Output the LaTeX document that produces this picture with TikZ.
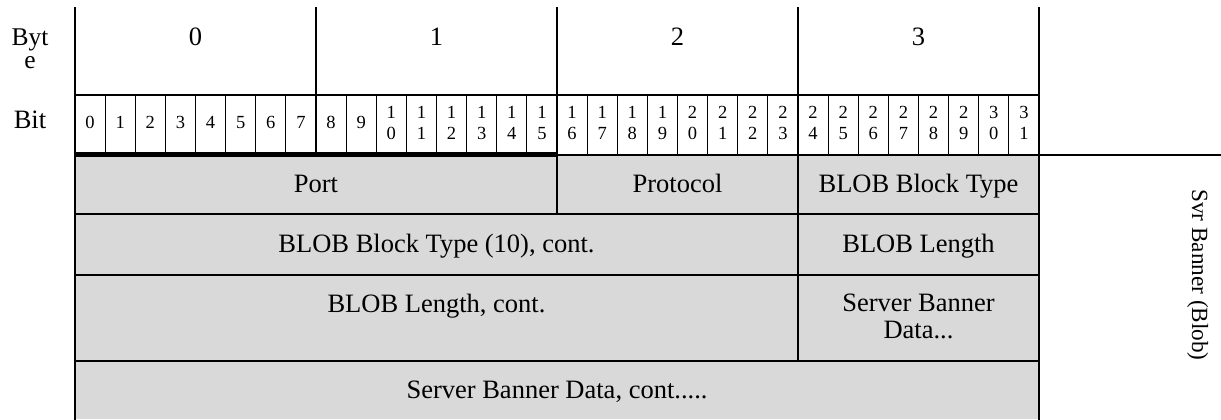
\documentclass[tikz,border=0pt]{standalone}
\usepackage{fontspec}
\setmainfont{Liberation Serif}
\definecolor{cellgray}{HTML}{D9D9D9}
\begin{document}
\begin{tikzpicture}[x=0.5pt,y=-0.5pt,
  txt/.style={font=\fontsize{13.25}{13.5}\selectfont, inner sep=0pt, align=center, anchor=base},
  bittxt/.style={font=\fontsize{9.25}{10.5}\selectfont, inner sep=0pt, align=center},
  rule/.style={line width=1pt, line cap=rect},
  fine/.style={line width=0.5pt},
  heavy/.style={line width=2.6pt}]
\useasboundingbox (0,0) rectangle (1221,419);
\fill[cellgray] (75,155) rectangle (1039,419);
% bit separators
\foreach \i in {1,...,31}{
  \pgfmathtruncatemacro\m{mod(\i,8)}
  \ifnum\m>0 \draw[fine] ({75+30.125*\i},95) -- ({75+30.125*\i},155); \fi
}
% frame lines
\draw[rule] (75,8) -- (75,419);
\draw[rule] (1039,8) -- (1039,419);
\draw[rule] (316,8) -- (316,155);
\draw[rule] (557,8) -- (557,214);
\draw[rule] (798,8) -- (798,361);
\draw[rule] (75,95) -- (1039,95);
\draw[rule] (557,155) -- (1221,155);
\draw[heavy] (75,154.5) -- (557,154.5);
\draw[rule] (75,214) -- (1039,214);
\draw[rule] (75,275) -- (1039,275);
\draw[rule] (75,361) -- (1039,361);
% bit numbers
\foreach \i in {0,...,31}{
  \pgfmathsetmacro\xc{75+30.125*(\i+0.5)}
  \ifnum\i<10
    \node[bittxt] (bit\i) at (\xc,122.5) {\i};
  \else
    \pgfmathtruncatemacro\tn{\i/10}
    \pgfmathtruncatemacro\un{\i-10*\tn}
    \node[bittxt] (bit\i) at (\xc,123) {\tn\\\un};
  \fi
}
% labels
\node[txt, font=\fontsize{12.75}{11.5}\selectfont] (byte) at (30,68) {Byt\\e};
\node[txt] (bitlabel) at (30,128) {Bit};
\node[txt] (byte0) at (195.5,45) {0};
\node[txt] (byte1) at (436.5,45) {1};
\node[txt] (byte2) at (677.5,45) {2};
\node[txt] (byte3) at (918.5,45) {3};
\node[txt] (port) at (316,192) {Port};
\node[txt] (proto) at (677.5,192) {Protocol};
\node[txt] (bbt) at (918.5,192) {BLOB Block Type};
\node[txt] (bbt10) at (436.5,252) {BLOB Block Type (10), cont.};
\node[txt] (blen) at (918.5,252) {BLOB Length};
\node[txt] (blenc) at (436.5,312) {BLOB Length, cont.};
\node[txt] (sbd) at (918.5,338.5) {Server Banner\\Data...};
\node[txt] (sbdc) at (557,398) {Server Banner Data, cont.....};
\node[font=\fontsize{11.6}{12}\selectfont, inner sep=0pt, rotate=-90, anchor=base] (svr) at (1192,275) {Svr Banner (Blob)};
\end{tikzpicture}
\end{document}
